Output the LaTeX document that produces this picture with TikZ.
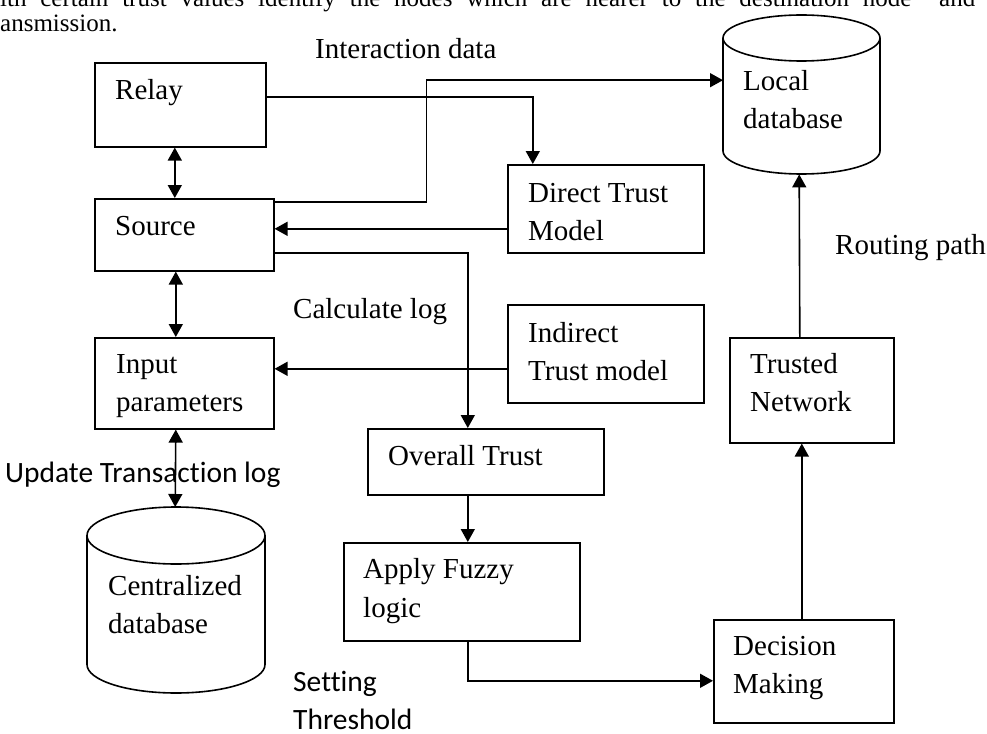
\documentclass[tikz,border=0pt]{standalone}
\usepackage{fontspec}
\setmainfont{Liberation Serif}
\newfontfamily\calibri[Ligatures=NoCommon]{Carlito}
\usetikzlibrary{arrows.meta}

\tikzset{
  box/.style={draw, line width=1.6pt, inner sep=0pt, anchor=north west},
  dbarea/.style={inner sep=0pt, anchor=north west},
  txt/.style={anchor=base west, inner sep=0pt, align=left, font=\fontsize{29}{38.5}\selectfont},
  cal/.style={txt, font=\calibri\fontsize{29.5}{38}\selectfont},
  conn/.style={line width=1.6pt, -{Triangle[length=13pt,width=14pt]}},
  dconn/.style={line width=1.6pt, {Triangle[length=13pt,width=14pt]}-{Triangle[length=13pt,width=14pt]}},
}

% cylinder outline: centre x, top centre y, bottom centre y, x radius, y radius
\newcommand\drawdb[5]{%
  \draw[line width=1.6pt] (#1,#2) ellipse [x radius=#4pt, y radius=#5pt];
  \draw[line width=1.6pt] (#1-#4,#2) -- (#1-#4,#3)
    arc [start angle=180, end angle=360, x radius=#4pt, y radius=#5pt] -- (#1+#4,#2);}

\begin{document}
\begin{tikzpicture}[x=1pt,y=-1pt]
\useasboundingbox (0,0) rectangle (987,733);

% text of the page, cut by the edge
\node[txt, font=\fontsize{25}{28}\selectfont] (head1) at (0,7) {\makebox[975pt][s]{ith certain trust values identify the nodes which are nearer to the destination node\ \ and}};
\node[txt, font=\fontsize{25}{28}\selectfont] (head2) at (0,32) {ansmission.};

% boxes
\node[box, minimum width=171pt, minimum height=84pt] (relay) at (94,62) {};
\node[box, minimum width=179pt, minimum height=72pt] (source) at (94,198) {};
\node[box, minimum width=179pt, minimum height=91pt] (input) at (94,337) {};
\node[box, minimum width=196pt, minimum height=88pt] (direct) at (507,164) {};
\node[box, minimum width=196pt, minimum height=98pt] (indirect) at (507,304) {};
\node[box, minimum width=236pt, minimum height=66pt] (overall) at (367,428) {};
\node[box, minimum width=236pt, minimum height=98pt] (fuzzy) at (343,542) {};
\node[box, minimum width=180pt, minimum height=103pt] (decision) at (713,619) {};
\node[box, minimum width=164pt, minimum height=105pt] (trusted) at (729,337) {};

% databases
\node[dbarea, minimum width=157pt, minimum height=159pt] (localdb) at (723,15) {};
\node[dbarea, minimum width=178pt, minimum height=186pt] (centraldb) at (87,507) {};
\drawdb{801.5}{38}{151}{78.5}{23}
\drawdb{176}{535.5}{664.5}{89}{28.5}

% box texts (base = last line)
\node[txt] (relay-t) at (115,100) {Relay};
\node[txt] (source-t) at (115,235) {Source};
\node[txt] (input-t) at (116,411.5) {Input\\parameters};
\node[txt] (direct-t) at (528,240.5) {Direct Trust\\Model};
\node[txt] (indirect-t) at (528,380.5) {Indirect\\Trust model};
\node[txt] (overall-t) at (388,465) {Overall Trust};
\node[txt] (fuzzy-t) at (363,617) {Apply Fuzzy\\logic};
\node[txt] (decision-t) at (733,693.5) {Decision\\Making};
\node[txt] (trusted-t) at (750,411.5) {Trusted\\Network};
\node[txt] (localdb-t) at (743,128.5) {Local\\database};
\node[txt] (centraldb-t) at (108,633.5) {Centralized\\database};

% connector labels
\node[txt] (interaction) at (315,59) {Interaction data};
\node[txt] (calclog) at (293,318) {Calculate log};
\node[txt] (routing) at (835,254) {Routing path};
\node[cal] (update) at (5,482) {Update Transaction log};
\node[cal] (threshold) at (293,729) {Setting\\Threshold};

% connectors
\draw[dconn] ([xshift=-5.5pt]relay.south) -- ([xshift=-9.5pt]source.north);
\draw[dconn] ([xshift=-8.5pt]source.south) -- ([xshift=-8.5pt]input.north);
\draw[dconn] ([xshift=-8.5pt]input.south) -- ([xshift=-1pt]centraldb.north);
\draw[conn] ([yshift=8pt]relay.east) -| ([xshift=-73pt]direct.north);
\draw[conn] ([yshift=-4pt]source.north east) -- ++(152,0) |- ([yshift=14.5pt]localdb.west);
\draw[conn] ([yshift=-20pt]direct.west) -- ([yshift=6pt]source.east);
\draw[conn] ([yshift=-18pt]source.east) -| ([xshift=-18pt]overall.north);
\draw[conn] ([yshift=-15pt]indirect.west) -- ([yshift=14.5pt]input.east);
\draw[conn] ([xshift=-18pt]overall.south) -- ([xshift=6pt]fuzzy.north);
\draw[conn] ([xshift=6pt]fuzzy.south) |- ([yshift=-9.5pt]decision.west);
\draw[conn] ([xshift=-2pt]decision.north) -- ([xshift=-10pt]trusted.south);
\draw[conn] ([xshift=-12pt]trusted.north) -- ([xshift=-2.5pt]localdb.south);
\end{tikzpicture}
\end{document}
